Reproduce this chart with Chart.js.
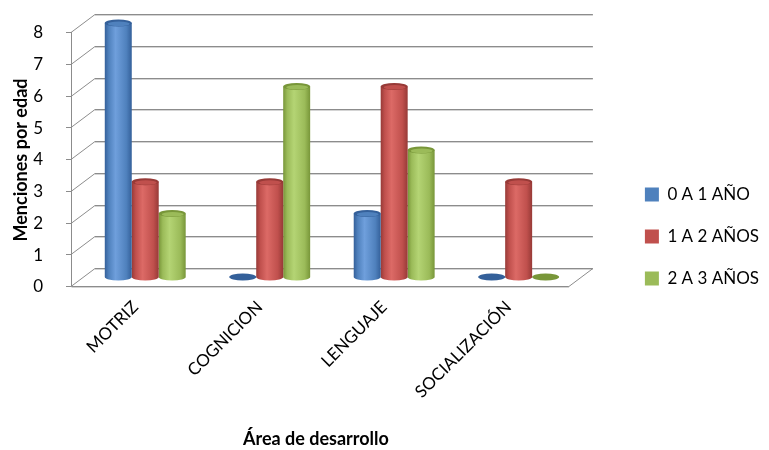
<!DOCTYPE html>
<html>
<head>
<meta charset="utf-8">
<script src="https://cdn.jsdelivr.net/npm/chart.js@4"></script>
<style>
  html, body { margin: 0; padding: 0; background: #fff; }
</style>
</head>
<body>
<canvas id="grafico-areas" width="769" height="450"></canvas>
<script>
/* Datos del gráfico */
var areas = ['MOTRIZ', 'COGNICION', 'LENGUAJE', 'SOCIALIZACIÓN'];
var edades = ['0 A 1 AÑO', '1 A 2 AÑOS', '2 A 3 AÑOS'];
var menciones0a1 = [8, 0, 2, 0];
var menciones1a2 = [3, 3, 6, 3];
var menciones2a3 = [2, 6, 4, 0];

var tituloX = 'Área de desarrollo';
var tituloY = 'Menciones por edad';

/* Colores estilo Office: base, oscuro, claro */
var colores = [
    ['#4F81BD', '#34609a', '#6f9fdc'],
    ['#C0504D', '#973a37', '#dc6a66'],
    ['#9BBB59', '#789639', '#b4d474']
];

var prof = { x: 12, y: 9 }; // media profundidad del efecto 3D
var fuente = 'Lato, "Open Sans", sans-serif';

function linea(ctx, x1, y1, x2, y2) {
    ctx.beginPath();
    ctx.moveTo(x1, y1);
    ctx.lineTo(x2, y2);
    ctx.stroke();
}

/* Paredes, suelo y rejilla en perspectiva */
var paredes = {
    id: 'paredes',
    beforeDatasetsDraw: function (chart) {
        var ctx = chart.ctx, a = chart.chartArea, y = chart.scales.y;
        var xf = a.left - prof.x, xb = a.left + prof.x, xr = a.right + prof.x;
        ctx.save();
        ctx.lineWidth = 1;
        y.ticks.forEach(function (t) {
            var py = y.getPixelForValue(t.value);
            var yf = Math.round(py + prof.y) + 0.5, yb = Math.round(py - prof.y) + 0.5;
            ctx.strokeStyle = '#d4d4d4';
            linea(ctx, xb, yb + 1, xr, yb + 1);
            ctx.strokeStyle = '#8c8c8c';
            linea(ctx, xb, yb, xr, yb);
            linea(ctx, xf, yf, xb, yb);
            linea(ctx, xf - 5, yf, xf, yf);
        });
        var y0 = y.getPixelForValue(0), yT = y.getPixelForValue(y.max);
        var y0f = Math.round(y0 + prof.y) + 0.5, y0b = Math.round(y0 - prof.y) + 0.5;
        xf = Math.round(xf) + 0.5;
        ctx.strokeStyle = '#8c8c8c';
        linea(ctx, xf, Math.round(yT + prof.y), xf, y0f);
        ctx.strokeStyle = '#d4d4d4';
        linea(ctx, xf, y0f + 1, a.right - prof.x, y0f + 1);
        ctx.strokeStyle = '#8c8c8c';
        linea(ctx, xf, y0f, a.right - prof.x, y0f);
        linea(ctx, a.right - prof.x, y0f, xr, y0b);
        ctx.restore();
    },
    afterDraw: function (chart) {
        // títulos de los ejes
        var ctx = chart.ctx, a = chart.chartArea;
        ctx.save();
        ctx.fillStyle = '#000';
        ctx.font = 'bold 18px ' + fuente;
        ctx.textAlign = 'center';
        ctx.textBaseline = 'middle';
        ctx.fillText(tituloX, (a.left + a.right) / 2 - 16, chart.height - 11);
        ctx.translate(21, (a.top + a.bottom) / 2 + 10);
        ctx.rotate(-Math.PI / 2);
        ctx.fillText(tituloY, 0, 0);
        ctx.restore();
    }
};

/* Cilindros en lugar de barras planas */
var cilindros = {
    id: 'cilindros',
    beforeDatasetDraw: function (chart, args) {
        var ctx = chart.ctx;
        var col = colores[args.index];
        args.meta.data.forEach(function (bar) {
            var p = bar.getProps(['x', 'y', 'base', 'width'], true);
            var rx = p.width / 2, ry = p.width * 0.13;
            ctx.save();
            if (p.base - p.y > 0.5) {
                var g = ctx.createLinearGradient(p.x - rx, 0, p.x + rx, 0);
                g.addColorStop(0, col[1]);
                g.addColorStop(0.15, col[0]);
                g.addColorStop(0.4, col[2]);
                g.addColorStop(0.8, col[0]);
                g.addColorStop(1, col[1]);
                ctx.fillStyle = g;
                ctx.beginPath();
                ctx.moveTo(p.x - rx, p.y);
                ctx.lineTo(p.x - rx, p.base);
                ctx.ellipse(p.x, p.base, rx, ry, 0, Math.PI, 0, true);
                ctx.lineTo(p.x + rx, p.y);
                ctx.closePath();
                ctx.fill();
                ctx.fillStyle = col[1];
                ctx.beginPath();
                ctx.ellipse(p.x, p.y, rx, ry, 0, 0, Math.PI * 2);
                ctx.fill();
                ctx.fillStyle = col[0];
                ctx.beginPath();
                ctx.ellipse(p.x + 0.5, p.y + 0.8, rx - 2.5, ry - 1.2, 0, 0, Math.PI * 2);
                ctx.fill();
            } else {
                ctx.fillStyle = col[1];
                ctx.beginPath();
                ctx.ellipse(p.x, p.base, rx, ry, 0, 0, Math.PI * 2);
                ctx.fill();
            }
            ctx.restore();
        });
        return false;
    }
};

Chart.defaults.font.family = fuente;
Chart.defaults.color = '#000';

var marco = document.getElementById('grafico-areas').getContext('2d');

var grafico = new Chart(marco, {
    type: 'bar',
    data: {
        labels: areas,
        datasets: [
            { label: edades[0], data: menciones0a1, backgroundColor: colores[0][0] },
            { label: edades[1], data: menciones1a2, backgroundColor: colores[1][0] },
            { label: edades[2], data: menciones2a3, backgroundColor: colores[2][0] }
        ]
    },
    options: {
        responsive: false,
        animation: false,
        devicePixelRatio: 1,
        categoryPercentage: 0.65,
        barPercentage: 1,
        layout: { padding: { top: 23, left: 0, right: 0, bottom: 0 } },
        plugins: {
            tooltip: { enabled: false },
            legend: {
                position: 'right',
                align: 'center',
                maxWidth: 220,
                labels: {
                    boxWidth: 14,
                    boxHeight: 14,
                    padding: 25,
                    color: '#000',
                    font: { size: 17 }
                }
            }
        },
        scales: {
            x: {
                grid: { display: false, drawTicks: false },
                border: { display: false },
                ticks: {
                    minRotation: 45,
                    maxRotation: 45,
                    padding: 20,
                    labelOffset: -10,
                    font: { size: 17 }
                },
                afterFit: function (s) { s.height = 173; }
            },
            y: {
                min: 0,
                max: 8,
                grid: { display: false, drawTicks: false },
                border: { display: false },
                ticks: {
                    stepSize: 1,
                    padding: 40,
                    labelOffset: 10,
                    font: { size: 17 }
                },
                afterFit: function (s) {
                    s.width = 83;
                    s.paddingTop = 0;
                    s.paddingBottom = 0;
                }
            },
            margen: {
                type: 'linear',
                axis: 'y',
                position: 'right',
                grid: { display: false, drawTicks: false },
                border: { display: false },
                ticks: { display: false },
                afterFit: function (s) { s.width = 39; }
            }
        }
    },
    plugins: [paredes, cilindros]
});
</script>
</body>
</html>
